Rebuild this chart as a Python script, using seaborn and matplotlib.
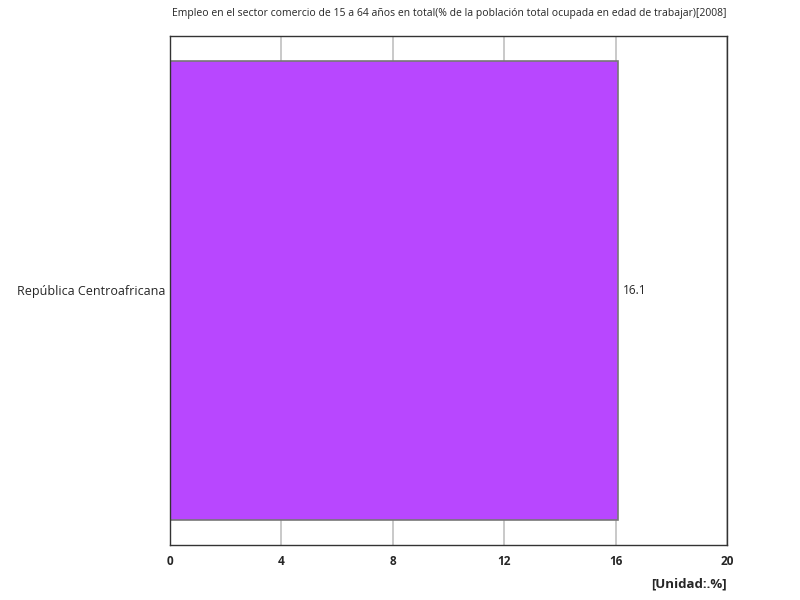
import pandas as pd
import seaborn as sns
import matplotlib
matplotlib.use("Agg")
import matplotlib.pyplot as plt

# data
countries = ["República Centroafricana"]
values = [16.1]
title = "Empleo en el sector comercio de 15 a 64 años en total(% de la población total ocupada en edad de trabajar)[2008]"
unit = "[Unidad:.%]"

sns.set_style("white")
plt.rcParams['font.family'] = ['Open Sans', 'DejaVu Sans']

df = pd.DataFrame({"country": countries, "value": values})

fig = plt.figure(figsize=(8, 6), dpi=100)
ax = fig.add_axes([0.2125, 0.0917, 0.6963, 0.8483])
sns.barplot(data=df, y="country", x="value", orient="h", color="#b847ff",
            saturation=1, width=0.9, edgecolor="#777777", linewidth=1.2, ax=ax)

ax.set_xlim(0, 20)
ax.set_ylim(0.5, -0.5)
ax.set_xticks([0, 4, 8, 12, 16, 20])
ax.set_xticklabels(["0", "4", "8", "12", "16", "20"], fontsize=8.5)
ax.tick_params(axis="x", length=0, pad=7)
ax.tick_params(axis="y", length=0, pad=3, labelsize=9)
ax.grid(axis="x", color="#c0c0c0", linewidth=1.2)
ax.set_axisbelow(True)
for s in ax.spines.values():
    s.set_color("#333333")
    s.set_linewidth(1.0)
ax.set_xlabel("")
ax.set_ylabel("")
for lab in ax.get_xticklabels():
    lab.set_fontweight("bold")

for i, v in enumerate(values):
    ax.text(v + 0.15, i, f"{v}", va="center", ha="left", fontsize=8.5)

fig.text(0.561, 0.977, title, ha="center", va="center", fontsize=7.5)
fig.text(0.909, 0.027, unit, ha="right", va="center", fontsize=9.5, fontweight="bold")

fig.savefig("out.png", dpi=100)
